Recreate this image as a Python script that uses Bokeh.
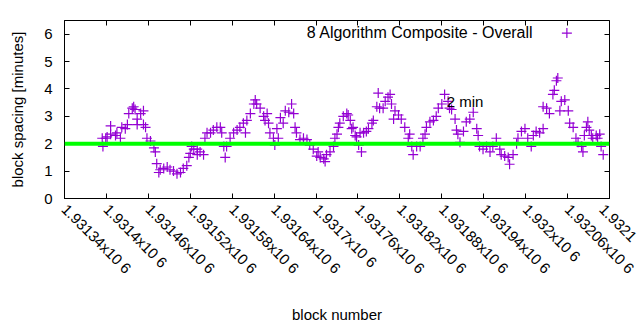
import math
from bokeh.plotting import figure
from bokeh.models import (Range1d, FixedTicker, LinearAxis, Span, Label, ColumnDataSource)
from bokeh.embed import file_html
from bokeh.resources import INLINE

# ---- data ----
blocks = [
    1931394, 1931395, 1931399, 1931401, 1931406, 1931406, 1931413, 1931415, 1931420, 1931422,
    1931427, 1931430, 1931432, 1931437, 1931439, 1931441, 1931444, 1931444, 1931449, 1931453,
    1931453, 1931456, 1931458, 1931463, 1931468, 1931470, 1931472, 1931475, 1931477, 1931482,
    1931487, 1931491, 1931496, 1931501, 1931506, 1931510, 1931515, 1931518, 1931520, 1931522,
    1931525, 1931530, 1931530, 1931534, 1931539, 1931541, 1931544, 1931549, 1931553, 1931558,
    1931563, 1931565, 1931568, 1931570, 1931572, 1931577, 1931582, 1931587, 1931591, 1931596,
    1931599, 1931601, 1931606, 1931611, 1931613, 1931615, 1931620, 1931625, 1931627, 1931630,
    1931632, 1931634, 1931639, 1931641, 1931644, 1931646, 1931649, 1931653, 1931656, 1931661,
    1931665, 1931668, 1931670, 1931672, 1931677, 1931682, 1931687, 1931691, 1931696, 1931701,
    1931703, 1931706, 1931711, 1931713, 1931715, 1931720, 1931725, 1931727, 1931730, 1931732,
    1931734, 1931739, 1931744, 1931746, 1931749, 1931751, 1931753, 1931756, 1931758, 1931761,
    1931763, 1931765, 1931768, 1931772, 1931775, 1931780, 1931782, 1931787, 1931789, 1931791,
    1931796, 1931799, 1931803, 1931806, 1931808, 1931811, 1931813, 1931818, 1931822, 1931827,
    1931832, 1931834, 1931837, 1931839, 1931844, 1931849, 1931853, 1931856, 1931858, 1931863,
    1931868, 1931872, 1931875, 1931880, 1931884, 1931889, 1931891, 1931894, 1931899, 1931901,
    1931903, 1931906, 1931911, 1931915, 1931920, 1931925, 1931930, 1931932, 1931934, 1931939,
    1931944, 1931949, 1931953, 1931958, 1931963, 1931965, 1931970, 1931975, 1931977, 1931982,
    1931987, 1931989, 1931994, 1931999, 1932003, 1932008, 1932011, 1932015, 1932020, 1932025,
    1932025, 1932030, 1932034, 1932039, 1932041, 1932044, 1932046, 1932049, 1932051, 1932056,
    1932061, 1932063, 1932068, 1932072, 1932075, 1932080, 1932082, 1932084, 1932087, 1932089,
    1932091, 1932094, 1932096, 1932101, 1932103, 1932106, 1932108, 1932111,
]
spacing = [
    2.2, 1.9, 2.2, 2.25, 2.65, 2.35, 2.3, 2.4, 2.2, 2.6,
    2.55, 2.7, 3.1, 3.3, 3.35, 3.25, 2.9, 2.7, 3.1, 3.2,
    2.7, 2.6, 2.2, 2.1, 1.85, 1.7, 1.27, 0.95, 1.05, 1.1,
    1.15, 1.05, 1.0, 0.9, 0.95, 1.1, 1.2, 1.5, 1.65, 1.9,
    1.8, 1.6, 1.8, 1.7, 1.6, 2.2, 2.4, 2.4, 2.5, 2.6,
    2.6, 2.4, 1.9, 1.5, 1.9, 2.2, 2.4, 2.5, 2.6, 2.75,
    2.4, 2.85, 3.1, 3.45, 3.6, 3.45, 3.3, 3.0, 2.85, 3.1,
    2.75, 2.4, 2.2, 1.95, 2.55, 2.2, 2.95, 2.75, 3.2, 3.15,
    3.45, 3.1, 2.6, 2.4, 2.15, 2.2, 2.15, 1.95, 1.8, 1.55,
    1.7, 1.5, 1.45, 1.35, 1.6, 1.7, 1.9, 2.2, 2.35, 2.6,
    2.75, 3.0, 3.1, 3.05, 2.85, 2.55, 2.6, 2.3, 2.25, 1.95,
    2.4, 1.7, 2.4, 2.45, 2.55, 2.75, 2.85, 3.35, 3.85, 3.3,
    3.3, 3.55, 3.7, 3.8, 3.45, 2.9, 3.2, 3.05, 2.9, 2.6,
    2.2, 2.35, 1.9, 1.6, 1.9, 1.9, 2.2, 2.35, 2.6, 2.8,
    2.85, 3.0, 3.3, 3.45, 3.8, 3.55, 3.3, 3.25, 2.9, 2.5,
    2.35, 2.05, 2.45, 2.8, 2.9, 3.15, 2.55, 2.3, 1.9, 1.8,
    1.9, 1.7, 1.9, 2.2, 1.8, 1.6, 1.55, 1.5, 1.25, 1.6,
    2.0, 2.2, 2.45, 2.55, 2.2, 1.9, 2.3, 2.45, 2.4, 2.55,
    3.35, 3.3, 3.1, 3.8, 3.95, 4.3, 4.4, 3.2, 3.55, 3.6,
    3.2, 2.75, 2.6, 2.2, 2.05, 1.9, 1.7, 2.3, 2.6, 2.8,
    2.5, 2.3, 2.2, 2.3, 2.2, 2.35, 1.9, 1.6,
]
target_minutes = 2
x_ticks = [1931340 + 60 * i for i in range(14)]
# the last label runs off the picture's edge in the reference; only its visible part is shown
x_tick_labels = ["1.93134x10 6", "1.9314x10 6", "1.93146x10 6", "1.93152x10 6", "1.93158x10 6",
                 "1.93164x10 6", "1.9317x10 6", "1.93176x10 6", "1.93182x10 6", "1.93188x10 6",
                 "1.93194x10 6", "1.932x10 6", "1.93206x10 6", "1.9321"]
y_ticks = [0, 1, 2, 3, 4, 5, 6]
series_name = "8 Algorithm Composite - Overall"

FONT = "Liberation Sans"
PURPLE = "#9400D3"
ANG = -math.pi / 4

p = figure(width=640, height=330, output_backend="svg", toolbar_location=None,
           x_range=Range1d(1931340, 1932120), y_range=Range1d(0, 6.5),
           min_border_left=64, min_border_right=31, min_border_top=20, min_border_bottom=132)
p.background_fill_color = "white"
p.border_fill_color = "white"
p.outline_line_color = "black"
p.outline_line_width = 1
p.grid.visible = False

src = ColumnDataSource(dict(x=blocks, y=spacing))
p.scatter("x", "y", source=src, marker="cross", size=10, line_color=PURPLE, line_width=1.2)

p.add_layout(Span(location=target_minutes, dimension="width", line_color="#00ff00", line_width=4))

xt = FixedTicker(ticks=x_ticks, minor_ticks=[])
yt = FixedTicker(ticks=y_ticks, minor_ticks=[])

xa = p.xaxis[0]
xa.ticker = xt
xa.major_label_overrides = {t: lab for t, lab in zip(x_ticks, x_tick_labels)}
xa.major_label_orientation = ANG
xa.axis_label = "block number"
ya = p.yaxis[0]
ya.ticker = yt
ya.axis_label = "block spacing [minutes]"

for ax in (xa, ya):
    ax.major_tick_in = 5
    ax.major_tick_out = 0
    ax.minor_tick_line_color = None
    ax.axis_line_color = "black"
    ax.major_label_text_font = FONT
    ax.major_label_text_font_size = "15px"
    ax.major_label_text_color = "black"
    ax.axis_label_text_font = FONT
    ax.axis_label_text_font_size = "15px"
    ax.axis_label_text_font_style = "normal"
    ax.axis_label_text_color = "black"
ya.major_label_standoff = 12
xa.major_label_standoff = 8
xa.axis_label_standoff = 20
ya.axis_label_standoff = 15

top = LinearAxis(ticker=xt, major_label_overrides={t: "" for t in x_ticks}, major_tick_in=5,
                 major_tick_out=0, minor_tick_line_color=None, axis_line_color=None,
                 major_label_standoff=0)
right = LinearAxis(ticker=yt, major_label_overrides={t: "" for t in y_ticks}, major_tick_in=5,
                   major_tick_out=0, minor_tick_line_color=None, axis_line_color=None,
                   major_label_standoff=0)
p.add_layout(top, "above")
p.add_layout(right, "right")

p.add_layout(Label(x=1931887, y=3.53, text="2 min", text_font=FONT, text_font_size="15px",
                   text_baseline="middle", text_color="black"))

# legend (text then sample, as in gnuplot); screen units are relative to the frame
p.add_layout(Label(x=469, y=166, x_units="screen", y_units="screen", text=series_name,
                   text_font=FONT, text_font_size="16px", text_align="right",
                   text_baseline="middle", text_color="black"))
p.scatter(x=[1932059], y=[6.04], marker="cross", size=10, line_color=PURPLE, line_width=1.2)

open("out.html", "w").write(file_html(p, INLINE))
